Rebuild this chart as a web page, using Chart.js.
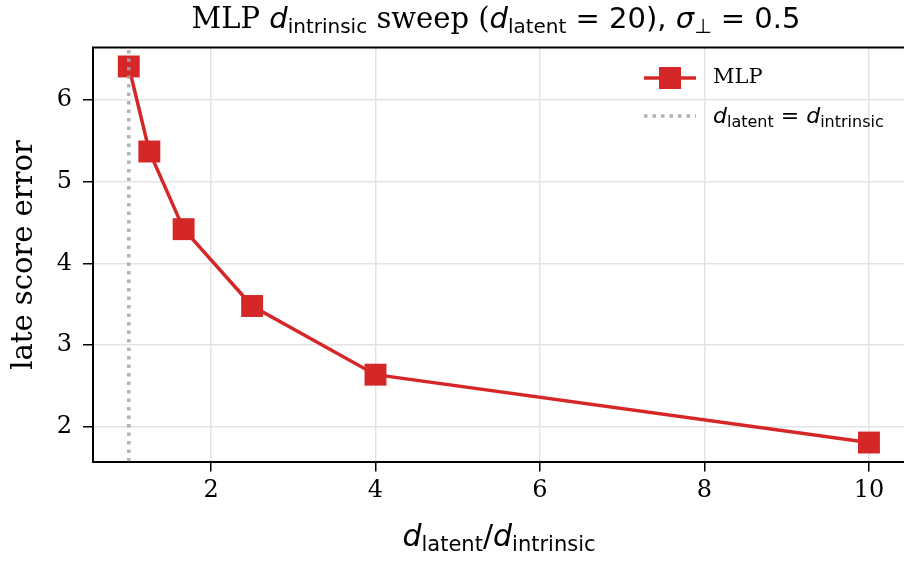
<!DOCTYPE html>
<html>
<head>
<meta charset="utf-8">
<script src="https://cdn.jsdelivr.net/npm/chart.js@4.4.0/dist/chart.umd.min.js"></script>
<style>
  html, body { margin: 0; padding: 0; background: #fff; }
  #wrap { width: 904px; height: 561px; }
</style>
</head>
<body>
<div id="wrap"><canvas id="chart" width="904" height="561"></canvas></div>
<script>
// d_latent / d_intrinsic ratios (d_latent = 20)
const ratios = [1, 1.25, 1.667, 2.5, 4, 10];
const lateError = [6.41, 5.37, 4.42, 3.48, 2.64, 1.81];
const xTicks = [2, 4, 6, 8, 10];
const yTicks = [2, 3, 4, 5, 6];
const refX = 1; // d_latent = d_intrinsic

const X_MIN = 0.565, X_MAX = 10.426;
const Y_MIN = 1.578, Y_MAX = 6.642;

const red = '#d62728';
const serif = "'DejaVu Serif', serif";
const sans = "'DejaVu Sans', sans-serif";

// draws a run of text pieces, some subscript / italic (mathtext-ish)
function drawRich(ctx, parts, x, y, align) {
  let total = 0;
  for (const p of parts) {
    ctx.font = p.font;
    total += ctx.measureText(p.t).width;
  }
  let cx = align === 'center' ? x - total / 2 : x;
  ctx.textBaseline = 'alphabetic';
  ctx.textAlign = 'left';
  for (const p of parts) {
    ctx.font = p.font;
    ctx.fillText(p.t, cx, y + (p.dy || 0));
    cx += ctx.measureText(p.t).width;
  }
}

const textPlugin = {
  id: 'textPlugin',
  afterDraw(chart) {
    const ctx = chart.ctx;
    const a = chart.chartArea;
    ctx.save();
    ctx.fillStyle = '#000';

    // top spine
    ctx.strokeStyle = '#000';
    ctx.lineWidth = 2;
    ctx.beginPath();
    ctx.moveTo(a.left - 1, a.top);
    ctx.lineTo(a.right + 1, a.top);
    ctx.stroke();

    // title
    const tS = 29, sS = 20;
    drawRich(ctx, [
      { t: 'MLP ', font: `${tS}px ${serif}` },
      { t: 'd', font: `italic ${tS}px ${sans}` },
      { t: 'intrinsic', font: `${sS}px ${sans}`, dy: 5 },
      { t: ' sweep (', font: `${tS}px ${serif}` },
      { t: 'd', font: `italic ${tS}px ${sans}` },
      { t: 'latent', font: `${sS}px ${sans}`, dy: 5 },
      { t: ' = 20), ', font: `${tS}px ${sans}` },
      { t: 'σ', font: `italic ${tS}px ${sans}` },
      { t: '⊥', font: `${sS}px ${sans}`, dy: 5 },
      { t: ' = 0.5', font: `${tS}px ${sans}` }
    ], 496, 28, 'center');

    // x axis label
    const lS = 30, lsS = 21;
    drawRich(ctx, [
      { t: 'd', font: `italic ${lS}px ${sans}` },
      { t: 'latent', font: `${lsS}px ${sans}`, dy: 5 },
      { t: '/', font: `${lS}px ${sans}` },
      { t: 'd', font: `italic ${lS}px ${sans}` },
      { t: 'intrinsic', font: `${lsS}px ${sans}`, dy: 5 }
    ], 499, 546, 'center');

    // y axis label
    ctx.save();
    ctx.translate(24, 255);
    ctx.rotate(-Math.PI / 2);
    ctx.font = `29px ${serif}`;
    ctx.textAlign = 'center';
    ctx.textBaseline = 'middle';
    ctx.fillText('late score error', 0, 0);
    ctx.restore();

    // legend (no frame)
    ctx.strokeStyle = red;
    ctx.lineWidth = 3.5;
    ctx.beginPath();
    ctx.moveTo(644, 78);
    ctx.lineTo(696, 78);
    ctx.stroke();
    ctx.fillStyle = red;
    ctx.fillRect(659, 67, 22, 22);

    ctx.strokeStyle = 'rgba(165,165,165,0.85)';
    ctx.lineWidth = 3.5;
    ctx.setLineDash([3.5, 5]);
    ctx.beginPath();
    ctx.moveTo(644, 116);
    ctx.lineTo(696, 116);
    ctx.stroke();
    ctx.setLineDash([]);

    ctx.fillStyle = '#000';
    ctx.font = `21px ${serif}`;
    ctx.textBaseline = 'middle';
    ctx.textAlign = 'left';
    ctx.fillText('MLP', 713, 78);
    const gS = 22, gsS = 16;
    drawRich(ctx, [
      { t: 'd', font: `italic ${gS}px ${sans}` },
      { t: 'latent', font: `${gsS}px ${sans}`, dy: 4 },
      { t: ' = ', font: `${gS}px ${sans}` },
      { t: 'd', font: `italic ${gS}px ${sans}` },
      { t: 'intrinsic', font: `${gsS}px ${sans}`, dy: 4 }
    ], 713, 123, 'left');

    ctx.restore();
  }
};

new Chart(document.getElementById('chart'), {
  type: 'scatter',
  data: {
    datasets: [
      {
        label: 'MLP',
        data: ratios.map((r, i) => ({ x: r, y: lateError[i] })),
        showLine: true,
        borderColor: red,
        backgroundColor: red,
        borderWidth: 3.5,
        pointStyle: 'rect',
        pointRadius: 15.5,
        pointHoverRadius: 15.5,
        pointBorderWidth: 0,
        clip: false,
        order: 2
      },
      {
        label: 'd_latent = d_intrinsic',
        data: [{ x: refX, y: Y_MIN }, { x: refX, y: Y_MAX }],
        showLine: true,
        borderColor: 'rgba(165,165,165,0.85)',
        borderWidth: 3.5,
        borderDash: [3.5, 5],
        pointRadius: 0,
        order: 1
      }
    ]
  },
  plugins: [textPlugin],
  options: {
    responsive: false,
    animation: false,
    layout: { autoPadding: false, padding: { left: 0, right: 0, top: 47.5, bottom: 0 } },
    plugins: {
      legend: { display: false },
      title: { display: false },
      tooltip: { enabled: false }
    },
    scales: {
      x: {
        type: 'linear',
        min: X_MIN,
        max: X_MAX,
        afterBuildTicks: (scale) => { scale.ticks = xTicks.map(v => ({ value: v })); },
        afterFit: (scale) => {
          scale.height = 99.5;
          scale.paddingLeft = 0;
          scale.paddingRight = 0;
        },
        ticks: {
          color: '#000',
          font: { family: 'DejaVu Serif', size: 24 },
          padding: 5,
          maxRotation: 0
        },
        grid: {
          color: '#e3e3e3',
          lineWidth: 1.5,
          tickColor: '#000',
          tickLength: 10,
          tickWidth: 1.5
        },
        border: { color: '#000', width: 2 }
      },
      y: {
        type: 'linear',
        min: Y_MIN,
        max: Y_MAX,
        afterBuildTicks: (scale) => { scale.ticks = yTicks.map(v => ({ value: v })); },
        afterFit: (scale) => {
          scale.width = 93;
          scale.paddingTop = 0;
          scale.paddingBottom = 0;
        },
        ticks: {
          color: '#000',
          font: { family: 'DejaVu Serif', size: 24 },
          padding: 11
        },
        grid: {
          color: '#e3e3e3',
          lineWidth: 1.5,
          tickColor: '#000',
          tickLength: 10,
          tickWidth: 1.5
        },
        border: { color: '#000', width: 2 }
      }
    }
  }
});
</script>
</body>
</html>
